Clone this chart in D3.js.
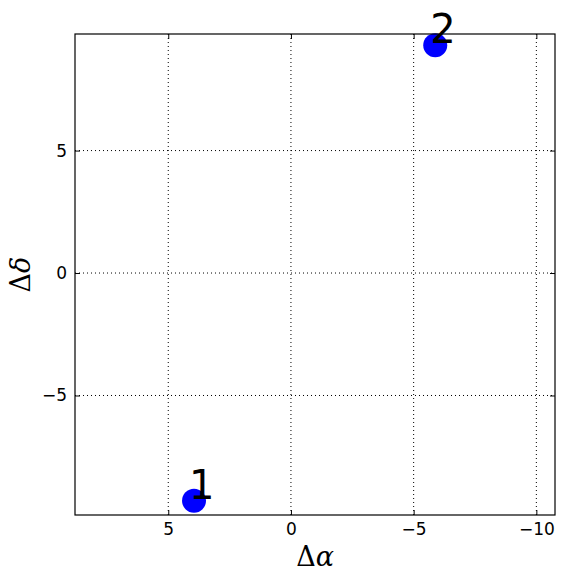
<!DOCTYPE html>
<html>
<head>
<meta charset="utf-8">
<script src="https://cdn.jsdelivr.net/npm/d3@7"></script>
<style>
  body { margin: 0; background: #fff; }
  svg { display: block; }
  .tick text { font-family: "DejaVu Sans", sans-serif; font-size: 17px; fill: #000; }
</style>
</head>
<body>
<div id="chart"></div>
<script>
// data
var labels = ["1", "2"];
var dAlpha = [3.95, -5.88];
var dDelta = [-9.3, 9.3];
var xTicks = [5, 0, -5, -10];
var yTicks = [-5, 0, 5];
var xDomain = [8.8, -10.76];
var yDomain = [-9.88, 9.76];

(function() {
var width = 564, height = 582;
var pLeft = 75, pRight = 555, pTop = 34, pBottom = 515;

var svg = d3.select("#chart").append("svg")
  .attr("width", width)
  .attr("height", height);

var x = d3.scaleLinear().domain(xDomain).range([pLeft, pRight]);
var y = d3.scaleLinear().domain(yDomain).range([pBottom, pTop]);

// grid
svg.append("g")
  .selectAll("line")
  .data(xTicks)
  .enter().append("line")
  .attr("x1", function(d){ return x(d) }).attr("x2", function(d){ return x(d) })
  .attr("y1", pTop).attr("y2", pBottom)
  .attr("stroke", "#000").attr("stroke-width", 1)
  .attr("stroke-dasharray", "1,3");

svg.append("g")
  .selectAll("line")
  .data(yTicks)
  .enter().append("line")
  .attr("y1", function(d){ return y(d) }).attr("y2", function(d){ return y(d) })
  .attr("x1", pLeft).attr("x2", pRight)
  .attr("stroke", "#000").attr("stroke-width", 1)
  .attr("stroke-dasharray", "1,3");

function fmt(d){ return d < 0 ? "\u2212" + Math.abs(d) : "" + d }

// axes, ticks pointing inside
svg.append("g")
  .attr("transform", "translate(0," + pBottom + ")")
  .call(d3.axisBottom(x).tickValues(xTicks).tickFormat(fmt).tickSizeInner(-5).tickSizeOuter(0).tickPadding(8));
svg.append("g")
  .attr("transform", "translate(0," + pTop + ")")
  .call(d3.axisTop(x).tickValues(xTicks).tickFormat("").tickSizeInner(-5).tickSizeOuter(0));
svg.append("g")
  .attr("transform", "translate(" + pLeft + ",0)")
  .call(d3.axisLeft(y).tickValues(yTicks).tickFormat(fmt).tickSizeInner(-5).tickSizeOuter(0).tickPadding(8));
svg.append("g")
  .attr("transform", "translate(" + pRight + ",0)")
  .call(d3.axisRight(y).tickValues(yTicks).tickFormat("").tickSizeInner(-5).tickSizeOuter(0));

svg.selectAll(".domain").remove();
svg.selectAll(".tick line").attr("stroke", "#000");

// points
svg.append("g")
  .selectAll("circle")
  .data(labels)
  .enter().append("circle")
  .attr("cx", function(d, i){ return x(dAlpha[i]) })
  .attr("cy", function(d, i){ return y(dDelta[i]) })
  .attr("r", 12)
  .attr("fill", "#0000ff");

svg.append("g")
  .selectAll("text")
  .data(labels)
  .enter().append("text")
  .attr("x", function(d, i){ return x(dAlpha[i]) - 5 })
  .attr("y", function(d, i){ return y(dDelta[i]) - 2 })
  .attr("font-family", "DejaVu Sans, sans-serif")
  .attr("font-size", 40)
  .attr("fill", "#000")
  .text(function(d){ return d });

// frame
svg.append("rect")
  .attr("x", pLeft).attr("y", pTop)
  .attr("width", pRight - pLeft).attr("height", pBottom - pTop)
  .attr("fill", "none").attr("stroke", "#000").attr("stroke-width", 1.2);

// axis labels
var xl = svg.append("text")
  .attr("x", (pLeft + pRight) / 2).attr("y", 566)
  .attr("text-anchor", "middle")
  .attr("font-family", "DejaVu Serif, serif")
  .attr("font-size", 27);
xl.append("tspan").text("\u0394");
xl.append("tspan").attr("font-style", "italic").text("\u03b1");

var yl = svg.append("text")
  .attr("transform", "translate(30," + (pTop + pBottom) / 2 + ") rotate(-90)")
  .attr("text-anchor", "middle")
  .attr("font-family", "DejaVu Serif, serif")
  .attr("font-size", 27);
yl.append("tspan").text("\u0394");
yl.append("tspan").attr("font-style", "italic").text("\u03b4");
})();
</script>
</body>
</html>
